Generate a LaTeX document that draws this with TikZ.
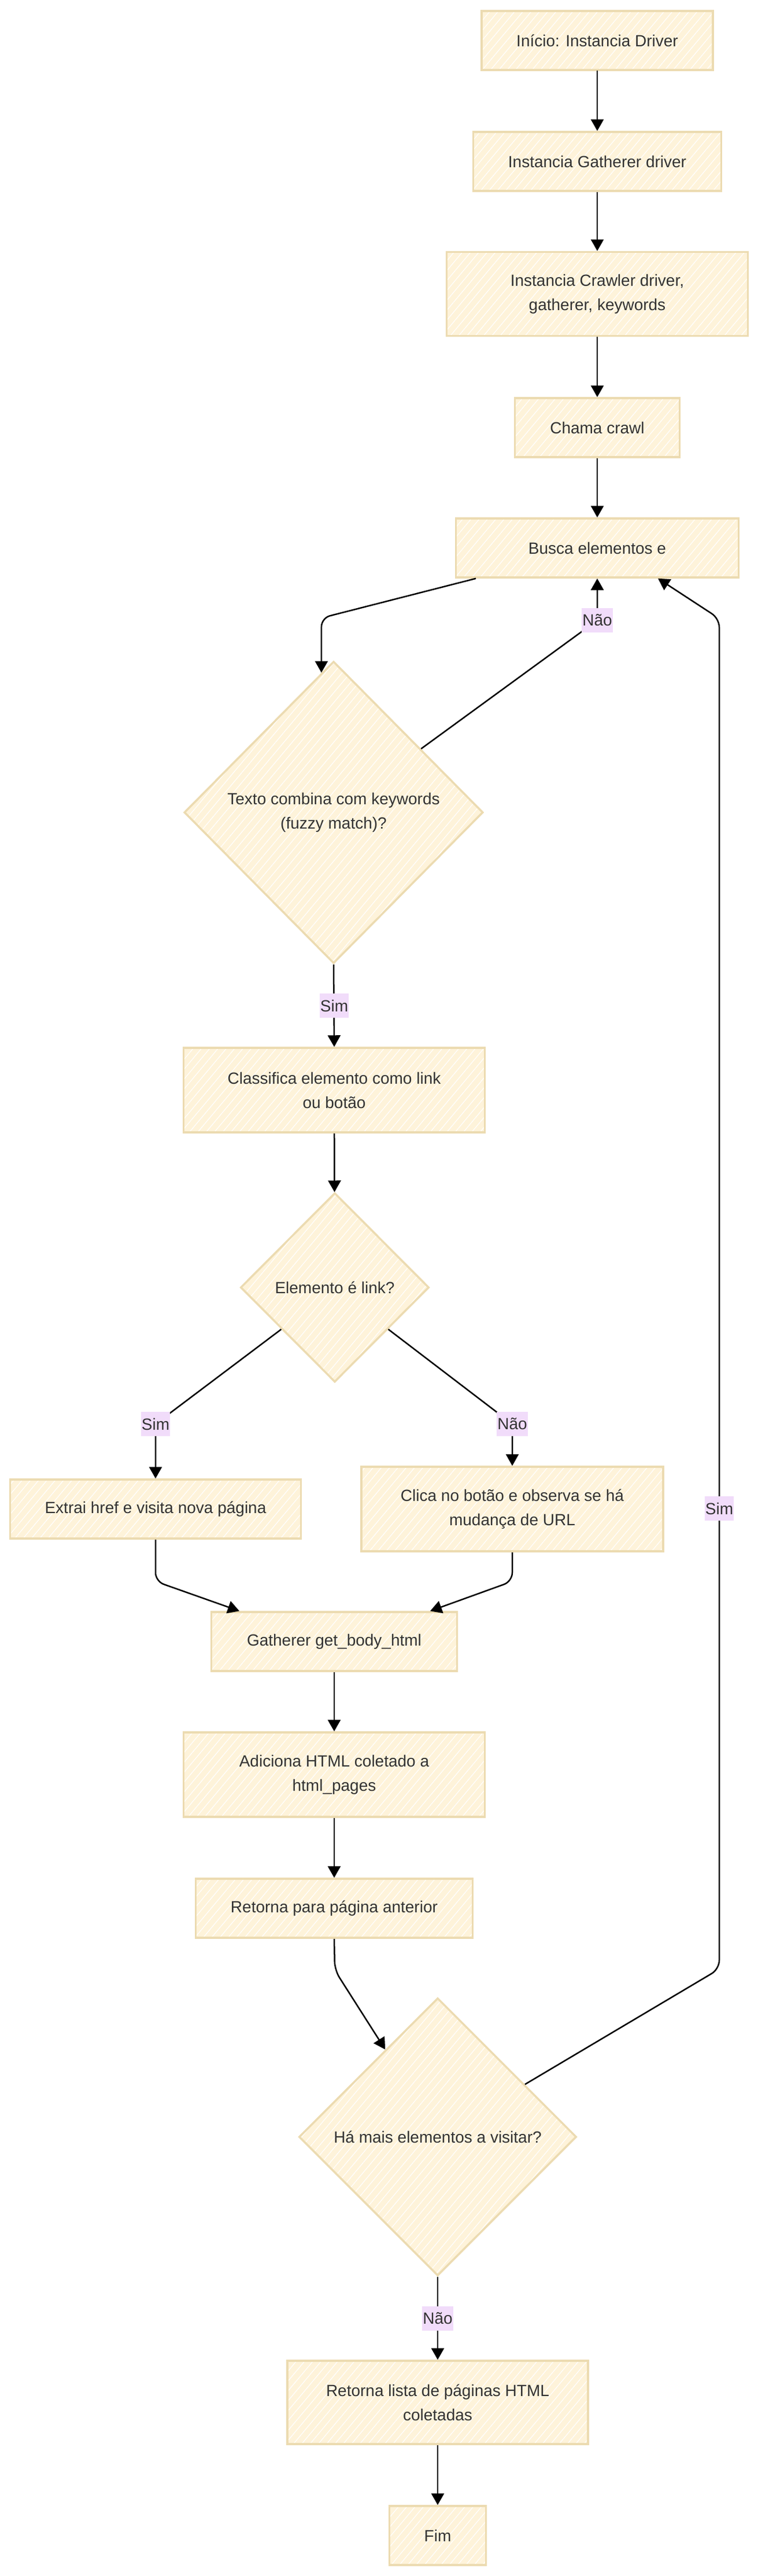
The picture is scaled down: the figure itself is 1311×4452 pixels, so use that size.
\documentclass[tikz,border=0pt]{standalone}
\usepackage{fontspec}
\setmainfont{Liberation Sans}
\usetikzlibrary{arrows.meta,shapes.geometric,patterns.meta}
\definecolor{boxfill}{HTML}{FEF3DA}
\definecolor{boxline}{HTML}{ECDBB1}
\definecolor{lblfill}{HTML}{F1DCFA}
\definecolor{txt}{HTML}{333333}
\begin{document}
\begin{tikzpicture}[x=1pt, y=-1pt,
  every node/.style={font=\fontsize{28}{42}\selectfont, text=txt},
  box/.style={draw=boxline, line width=3.5pt, preaction={fill=boxfill},
    pattern={Lines[angle=50,distance=11pt,line width=1.2pt]}, pattern color=white,
    inner sep=0pt, minimum height=102pt, align=center},
  decision/.style={box, diamond, aspect=1},
  lbl/.style={fill=lblfill, inner sep=1pt, minimum height=42pt},
  arr/.style={-{Triangle[length=20pt,width=22pt]}, line width=2.5pt, rounded corners=15pt}]
\useasboundingbox (0,0) rectangle (1311,4452);

\node (ini) [box, minimum width=400pt] at (1033,70) {Início: Instancia Driver};
\node (gat) [box, minimum width=429pt] at (1033,279) {Instancia Gatherer driver};
\node (cra) [box, minimum width=521pt, minimum height=145pt] at (1033,508) {Instancia Crawler driver,\\gatherer, keywords};
\node (cha) [box, minimum width=285pt] at (1033,739) {Chama crawl};
\node (bus) [box, minimum width=489pt] at (1033,947) {Busca elementos e};
\node (tex) [decision, minimum width=517pt, minimum height=522pt] at (577,1404) {Texto combina com keywords\\(fuzzy match)?};
\node (cla) [box, minimum width=521pt, minimum height=146pt] at (578,1884) {Classifica elemento como link\\ou botão};
\node (ele) [decision, minimum width=326pt, minimum height=327pt] at (579,2225) {Elemento é link?};
\node (ext) [box, minimum width=503pt] at (269,2608) {Extrai href e visita nova página};
\node (cli) [box, minimum width=522pt, minimum height=146pt] at (886,2608) {Clica no botão e observa se há\\mudança de URL};
\node (gbh) [box, minimum width=425pt] at (578,2837) {Gatherer get\_body\_html};
\node (adi) [box, minimum width=521pt, minimum height=146pt] at (578,3067) {Adiciona HTML coletado a\\html\_pages};
\node (ret) [box, minimum width=479pt] at (578,3298) {Retorna para página anterior};
\node (mai) [decision, minimum width=480pt, minimum height=480pt] at (757,3693) {Há mais elementos a visitar?};
\node (lis) [box, minimum width=520pt, minimum height=144pt] at (757,4152) {Retorna lista de páginas HTML\\coletadas};
\node (fim) [box, minimum width=167pt] at (757,4382) {Fim};

% bends
\coordinate (b1) at (556,1068);
\coordinate (b2) at (1033,1072);
\coordinate (b3) at (269,2461);
\coordinate (b4) at (886,2461);
\coordinate (b5) at (269,2733);
\coordinate (b6) at (886,2733);
\coordinate (b7) at (579,3405);
\coordinate (b8) at (1244,3403);
\coordinate (b9) at (1244,1069);

\draw [arr] (ini) -- (gat);
\draw [arr] (gat) -- (cra);
\draw [arr] (cra) -- (cha);
\draw [arr] (cha) -- (bus);
\draw [arr] ([xshift=-210pt]bus.south) -- (b1) -- (tex.95);
\draw [arr] (tex.36) -- (b2) -- (bus.south);
\draw [arr] (tex.south) -- (cla.north);
\draw [arr] (cla) -- (ele);
\draw [arr] (ele.218) -- (b3) -- (ext.north);
\draw [arr] (ele.-38) -- (b4) -- (cli.north);
\draw [arr] (ext.south) -- (b5) -- ([xshift=-164pt]gbh.north);
\draw [arr] (cli.south) -- (b6) -- ([xshift=166pt]gbh.north);
\draw [arr] (gbh) -- (adi);
\draw [arr] (adi) -- (ret);
\draw [arr] (ret.south) -- (b7) -- (mai.121);
\draw [arr] (mai.31) -- (b8) -- (b9) -- ([xshift=105pt]bus.south);
\draw [arr] (mai.south) -- (lis.north);
\draw [arr] (lis) -- (fim);

\node (n1) [lbl] at (b2) {Não};
\node (s1) [lbl] at (578,1738) {Sim};
\node (s2) [lbl] at (b3) {Sim};
\node (n2) [lbl] at (b4) {Não};
\node (s3) [lbl] at (1244,2607) {Sim};
\node (n3) [lbl] at (757,4007) {Não};
\end{tikzpicture}
\end{document}
